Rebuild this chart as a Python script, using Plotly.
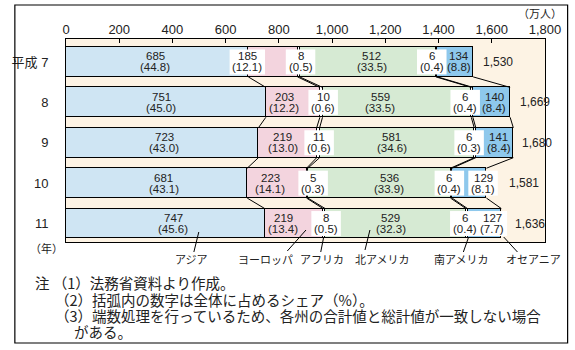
import plotly.graph_objects as go

# ---------------- data ----------------
years = ["平成 7", "8", "9", "10", "11"]
regions = ["アジア", "ヨーロッパ", "アフリカ", "北アメリカ", "南アメリカ", "オセアニア"]
asia = [685, 751, 723, 681, 747]
europe = [185, 203, 219, 223, 219]
africa = [8, 10, 11, 5, 8]
n_america = [512, 559, 581, 536, 529]
s_america = [6, 6, 6, 6, 6]
oceania = [134, 140, 141, 129, 127]
asia_share = [44.8, 45.0, 43.0, 43.1, 45.6]
europe_share = [12.1, 12.2, 13.0, 14.1, 13.4]
africa_share = [0.5, 0.6, 0.6, 0.3, 0.5]
n_america_share = [33.5, 33.5, 34.6, 33.9, 32.3]
s_america_share = [0.4, 0.4, 0.3, 0.4, 0.4]
oceania_share = [8.8, 8.4, 8.4, 8.1, 7.7]
totals = [1530, 1669, 1680, 1581, 1636]
x_ticks = [0, 200, 400, 600, 800, 1000, 1200, 1400, 1600, 1800]
x_tick_labels = ["0", "200", "400", "600", "800", "1,000", "1,200", "1,400", "1,600", "1,800"]
notes = [
    "注 （1）法務省資料より作成。",
    "（2）括弧内の数字は全体に占めるシェア（%）。",
    "（3）端数処理を行っているため、各州の合計値と総計値が一致しない場合",
    "がある。",
]

values = [asia, europe, africa, n_america, s_america, oceania]
shares = [asia_share, europe_share, africa_share, n_america_share, s_america_share, oceania_share]

# ---------------- style / layout ----------------
W, H = 575, 350
PL, PR, PT, PB = 58, 545, 39, 242
XMAX = 1800
Y_RANGE = (4.457, -0.568)
BAR_W = 0.74
colors = ["#cfe5f3", "#f3d4de", "#ffffff", "#d6ead3", "#ffffff", "#8ec8ec"]
BG = "#fdf3e4"
NUM_FONT = "Liberation Sans, Arial, Noto Sans CJK JP"
JP_FONT = "Noto Sans CJK JP"
TXT = "#222"

# label horizontal shifts in px (relative to segment centre) and white box flags
label_shift = [
    [-2, -5, 2, 7, 8],
    [-26, -9, -5, -7, -11],
    [2, 2, 1, 6, 2],
    [4, -17, -5, 10, -5],
    [-5, -7, -6, -2, -2],
    [4, 3, 4, 14, 8],
]
white_box = [
    [0, 0, 0, 0, 0],
    [1, 0, 0, 0, 0],
    [1, 1, 1, 1, 1],
    [0, 0, 0, 0, 0],
    [1, 1, 1, 1, 1],
    [0, 0, 0, 1, 1],
]
total_gap_px = [8, 8, 7, 21, 12]

pxu = (PR - PL) / XMAX  # px per data unit
pyu = (PB - PT) / (Y_RANGE[0] - Y_RANGE[1])


def px2paper(px, py):
    return (px - PL) / (PR - PL), (PB - py) / (PB - PT)


ypos = list(range(len(years)))

fig = go.Figure()
for k, reg in enumerate(regions):
    fig.add_trace(go.Bar(
        y=ypos, x=values[k], orientation="h", name=reg, width=BAR_W,
        marker=dict(color=colors[k], line=dict(color="black", width=1)),
        hoverinfo="skip", showlegend=False,
    ))

shapes = []
annotations = []

# cumulative boundaries
cums = []
for r in range(len(years)):
    c = [0]
    for k in range(len(regions)):
        c.append(c[-1] + values[k][r])
    cums.append(c)

# connector lines between rows
for r in range(len(years) - 1):
    for b in range(1, len(regions) + 1):
        shapes.append(dict(type="line", xref="x", yref="y",
                           x0=cums[r][b], y0=r + BAR_W / 2,
                           x1=cums[r + 1][b], y1=r + 1 - BAR_W / 2,
                           line=dict(color="black", width=1), layer="above"))

# segment labels
half_box = 12.5 / pyu
dy = 5.5 / pyu
for k in range(len(regions)):
    for r in range(len(years)):
        centre = cums[r][k] + values[k][r] / 2
        lx = centre + label_shift[k][r] / pxu
        share_txt = "(%.1f)" % shares[k][r]
        if white_box[k][r]:
            n = len("%.1f" % shares[k][r])
            wpx = 12 + 6 * n
            shapes.append(dict(type="rect", xref="x", yref="y",
                               x0=lx - wpx / 2 / pxu, x1=lx + wpx / 2 / pxu,
                               y0=r - half_box, y1=r + half_box,
                               fillcolor="white", line=dict(width=0), layer="above"))
        annotations.append(dict(x=lx, y=r - dy, xref="x", yref="y", text=str(values[k][r]),
                                showarrow=False, font=dict(size=11.5, family=NUM_FONT, color=TXT)))
        annotations.append(dict(x=lx, y=r + dy, xref="x", yref="y", text=share_txt,
                                showarrow=False, font=dict(size=11.5, family=NUM_FONT, color=TXT)))

# totals
for r in range(len(years)):
    annotations.append(dict(x=cums[r][-1], y=r, xref="x", yref="y", text=f"{totals[r]:,}",
                            xanchor="left", xshift=total_gap_px[r], showarrow=False,
                            font=dict(size=12, family=NUM_FONT, color=TXT)))


def paper_text(px, py, text, size, xanchor="center", family=JP_FONT):
    x, y = px2paper(px, py)
    annotations.append(dict(x=x, y=y, xref="paper", yref="paper", text=text, showarrow=False,
                            xanchor=xanchor, yanchor="middle",
                            font=dict(size=size, family=family, color=TXT)))


# region name labels with leader lines (px coordinates)
reg_label_px = [186, 261, 318, 379, 460, 533]
leaders = [((193, 232), (188, 252)), ((302, 230), (283, 251)), ((320, 237), (317, 252)),
           ((367, 230), (362, 250)), ((467, 238), (462, 252)), ((503, 237), (517, 252))]
for k, reg in enumerate(regions):
    paper_text(reg_label_px[k], 259, reg, 11)
    (ax0, ay0), (ax1, ay1) = leaders[k]
    p0 = px2paper(ax0, ay0)
    p1 = px2paper(ax1, ay1)
    shapes.append(dict(type="line", xref="paper", yref="paper", x0=p0[0], y0=p0[1],
                       x1=p1[0], y1=p1[1], line=dict(color="black", width=1), layer="above"))

# unit label and year label
paper_text(540, 13, "（万人）", 11)
paper_text(38, 248, "（年）", 11)

# notes
note_pos = [(24, 282.5), (45, 299), (45, 315.5), (64, 331)]
for t, (npx, npy) in zip(notes, note_pos):
    paper_text(npx, npy, t, 14.5, xanchor="left")

# outer frame
fx0, fy0 = px2paper(6, 343)
fx1, fy1 = px2paper(568, 5)
shapes.append(dict(type="rect", xref="paper", yref="paper", x0=fx0, y0=fy0, x1=fx1, y1=fy1,
                   line=dict(color="black", width=1.2), fillcolor="rgba(0,0,0,0)", layer="above"))

fig.update_layout(
    width=W, height=H, barmode="stack",
    margin=dict(l=PL, r=W - PR, t=PT, b=H - PB, pad=0),
    paper_bgcolor="white", plot_bgcolor=BG,
    shapes=shapes, annotations=annotations,
    bargap=0,
    xaxis=dict(side="top", range=[0, XMAX], tickvals=x_ticks, ticktext=x_tick_labels,
               ticks="inside", ticklen=4, tickcolor="black", showgrid=False, zeroline=False,
               showline=True, linecolor="black", linewidth=1, mirror=True,
               ticklabelstandoff=-1,
               tickfont=dict(size=13, family=NUM_FONT, color=TXT)),
    yaxis=dict(range=list(Y_RANGE), tickvals=ypos, ticktext=years, ticks="", showgrid=False,
               zeroline=False, showline=True, linecolor="black", linewidth=1, mirror=True,
               ticklabelstandoff=14,
               tickfont=dict(size=13, family="Liberation Sans, Noto Sans CJK JP", color=TXT)),
)

fig.write_html("out.html")
